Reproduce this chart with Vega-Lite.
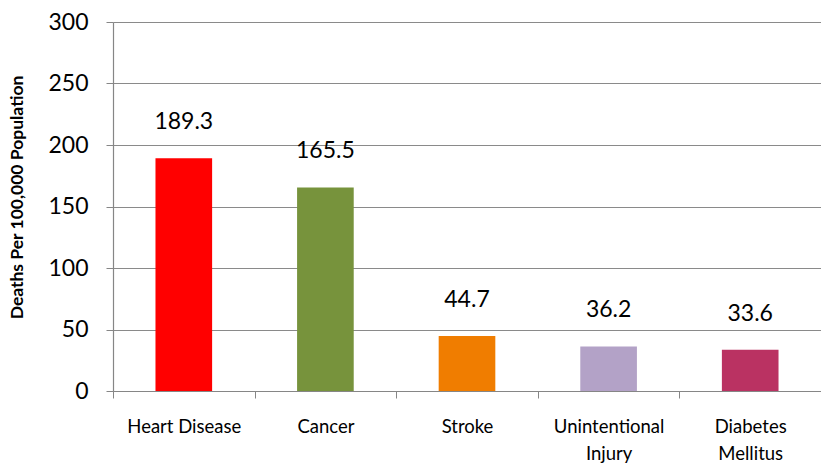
{
  "$schema": "https://vega.github.io/schema/vega-lite/v6.json",
  "autosize": {"type": "none"},
  "padding": {"left": 113, "top": 22, "right": 0, "bottom": 73},
  "width": 708,
  "height": 369,
  "background": "white",
  "config": {
    "view": {"stroke": null},
    "font": "Lato"
  },
  "data": {
    "values": [
      {"cause": "Heart Disease", "rate": 189.3, "color": "#FF0000"},
      {"cause": "Cancer", "rate": 165.5, "color": "#77933C"},
      {"cause": "Stroke", "rate": 44.7, "color": "#F07D00"},
      {"cause": "Unintentional Injury", "rate": 36.2, "color": "#B3A2C7"},
      {"cause": "Diabetes Mellitus", "rate": 33.6, "color": "#BA3262"}
    ]
  },
  "encoding": {
    "x": {
      "field": "cause",
      "type": "nominal",
      "sort": null,
      "scale": {"paddingInner": 0, "paddingOuter": 0},
      "axis": {
        "title": null,
        "labelAngle": 0,
        "labelFont": "Lato",
        "labelFontSize": 18.5,
        "labelColor": "#000000",
        "labelPadding": 19,
        "labelLineHeight": 27,
        "labelExpr": "indexof(['Unintentional Injury','Diabetes Mellitus'], datum.label) >= 0 ? split(datum.label, ' ') : datum.label",
        "tickBand": "extent",
        "tickSize": 7,
        "tickColor": "#868686",
        "domainColor": "#868686",
        "domainWidth": 1.2,
        "grid": false
      }
    },
    "y": {
      "field": "rate",
      "type": "quantitative",
      "scale": {"domain": [0, 300], "nice": false},
      "axis": {
        "title": "Deaths Per 100,000 Population",
        "titleFont": "Lato",
        "titleFontSize": 17.5,
        "titleFontWeight": "bold",
        "titleColor": "#000000",
        "titleX": -87,
        "titleY": 175,
        "values": [0, 50, 100, 150, 200, 250, 300],
        "labelFont": "Lato",
        "labelFontSize": 23,
        "labelColor": "#000000",
        "labelPadding": 18,
        "tickSize": 7,
        "tickColor": "#868686",
        "domainColor": "#868686",
        "domainWidth": 1.2,
        "grid": true,
        "gridColor": "#8a8a8a",
        "gridWidth": 1.2
      }
    }
  },
  "layer": [
    {
      "mark": {"type": "bar", "width": {"band": 0.4}},
      "encoding": {
        "color": {"field": "color", "type": "nominal", "scale": null, "legend": null}
      }
    },
    {
      "mark": {"type": "text", "baseline": "middle", "dy": -36, "font": "Lato", "fontSize": 23, "color": "#000000"},
      "encoding": {
        "text": {"field": "rate", "type": "quantitative", "format": ".1f"}
      }
    }
  ]
}
